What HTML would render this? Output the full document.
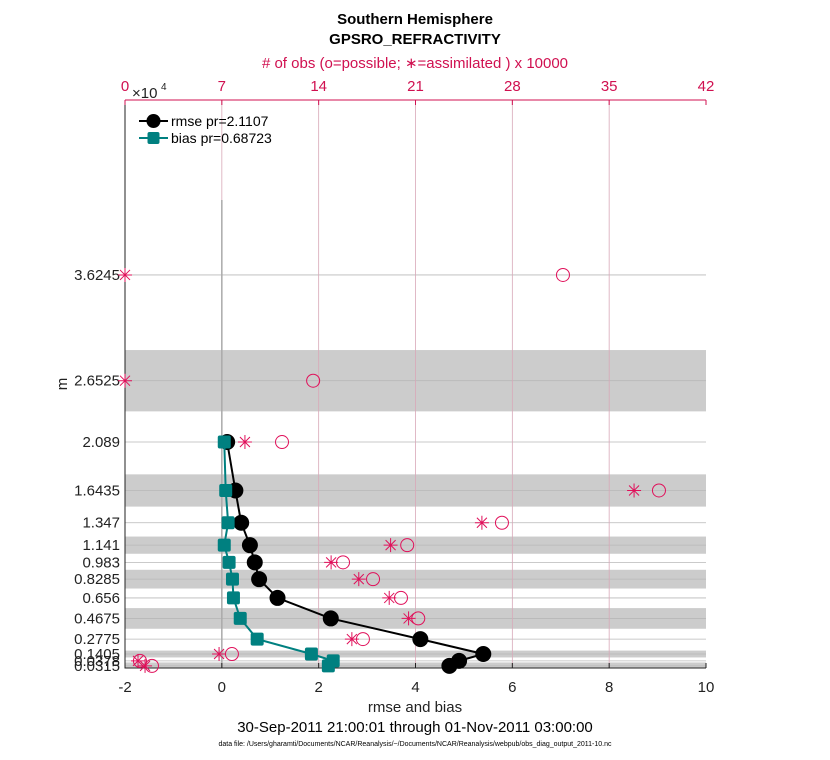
<!DOCTYPE html>
<html><head><meta charset="utf-8">
<style>
body{margin:0;background:#fff;}
svg{display:block;font-family:"Liberation Sans",Arial,sans-serif;}
</style></head>
<body>
<svg id="c" width="830" height="760" xmlns="http://www.w3.org/2000/svg"></svg>
<script>
const levels=[3.6245,2.6525,2.089,1.6435,1.347,1.141,0.983,0.8285,0.656,0.4675,0.2775,0.1405,0.0775,0.0315];
const levelLabels=["3.6245","2.6525","2.089","1.6435","1.347","1.141","0.983","0.8285","0.656","0.4675","0.2775","0.1405","0.0378","0.0315"];
const rmse=[null,null,0.11,0.28,0.4,0.58,0.68,0.77,1.15,2.25,4.1,5.4,4.9,4.7];
const bias=[null,null,0.05,0.08,0.13,0.05,0.15,0.22,0.24,0.38,0.73,1.85,2.3,2.2];
const obsPossible=[31.66,13.6,11.35,38.6,27.25,20.4,15.76,17.93,19.95,21.2,17.2,7.73,1.08,1.95];
const obsAssim=[0,0,8.67,36.8,25.8,19.2,14.9,16.9,19.1,20.5,16.4,6.8,0.94,1.45];
const bandLevels=[1,3,5,7,9,11,13];
const xTicks=[-2,0,2,4,6,8,10];
const topTicks=[0,7,14,21,28,35,42];

const L=125,R=706,T=100,B=668;
const X=v=>L+(v+2)/12*(R-L);
const Xt=v=>L+v/42*(R-L);
const Y=v=>669.3-v*108.8;
const svg=document.getElementById('c');
const NS="http://www.w3.org/2000/svg";
function mk(tag,attrs,parent){const e=document.createElementNS(NS,tag);for(const k in attrs)e.setAttribute(k,attrs[k]);(parent||svg).appendChild(e);return e;}
function tx(x,y,s,attrs){const e=mk('text',Object.assign({x:x,y:y},attrs));e.textContent=s;return e;}

// bands
bandLevels.forEach(i=>{
  const dn=i<levels.length-1?(levels[i]+levels[i+1])/2:0;
  const up=levels[i]+(levels[i]-dn);
  let y1=Math.max(Y(up),T),y2=Math.min(Y(dn),B);
  const r=mk('rect',{x:L,y:y1,width:R-L,height:y2-y1,fill:'#cccccc'});
  
  
});
// horizontal grid
levels.forEach(v=>{const l=mk('line',{x1:L,x2:R,y1:Y(v),y2:Y(v),stroke:'#b8b8b8','stroke-width':0.8});
});
// top vertical grid
topTicks.forEach(v=>{if(v>0&&v<42){const l=mk('line',{x1:Xt(v),x2:Xt(v),y1:T,y2:B,stroke:'#d8a8b8','stroke-width':0.8});
}});
// zero line
const z=mk('line',{x1:X(0),x2:X(0),y1:200,y2:B,stroke:'#aaaaaa','stroke-width':1.5});

// axes
const ax=mk('path',{d:`M${L},${T}V${B}H${R}`,fill:'none',stroke:'#222','stroke-width':1});

const tax=mk('line',{x1:L,x2:R,y1:T,y2:T,stroke:'#d01050','stroke-width':1});

// x ticks
xTicks.forEach(v=>{const t=tx(X(v),692,String(v),{'font-size':15,'text-anchor':'middle',fill:'#222'});

mk('line',{x1:X(v),x2:X(v),y1:B,y2:B-5,stroke:'#222'});});
topTicks.forEach(v=>{const t=tx(Xt(v),91,String(v),{'font-size':15,'text-anchor':'middle',fill:'#d01050'});

mk('line',{x1:Xt(v),x2:Xt(v),y1:T,y2:T+5,stroke:'#d01050'});});
const e4=tx(132,98,'\u00d710',{'font-size':15,fill:'#222'});

tx(161,90,'4',{'font-size':10,fill:'#222'});
// y labels
levels.forEach((v,i)=>{const t=tx(120,Y(v)+5,levelLabels[i],{'font-size':15,'text-anchor':'end',fill:'#222'});
});
// obs markers
levels.forEach((v,i)=>{
  const c=mk('circle',{cx:Xt(obsPossible[i]),cy:Y(v),r:6.5,fill:'none',stroke:'#e0105a','stroke-width':1});
  
  const x=Xt(obsAssim[i]),y=Y(v),s=7;
  const a=mk('path',{d:`M${x-s},${y}H${x+s}M${x},${y-s}V${y+s}M${x-5},${y-5}L${x+5},${y+5}M${x-5},${y+5}L${x+5},${y-5}`,stroke:'#e0105a','stroke-width':1,fill:'none'});
  
});
// series
function series(vals,color,name,sq){
  let d='';vals.forEach((v,i)=>{if(v===null)return;d+=(d?'L':'M')+X(v)+','+Y(levels[i]);});
  const p=mk('path',{d:d,fill:'none',stroke:color,'stroke-width':2});
  
  vals.forEach((v,i)=>{if(v===null)return;
    let m;
    if(sq){m=mk('rect',{x:X(v)-6.5,y:Y(levels[i])-6.5,width:13,height:13,rx:2,fill:color});}
    else{m=mk('circle',{cx:X(v),cy:Y(levels[i]),r:8,fill:color});}
    });
}
series(rmse,'#000','rmse',false);
series(bias,'#008080','bias',true);
// legend
const lg=mk('g',{});
mk('line',{x1:139,x2:168,y1:121,y2:121,stroke:'#000','stroke-width':2},lg);
mk('circle',{cx:153.5,cy:121,r:7,fill:'#000'},lg);
tx(171,126,'rmse pr=2.1107',{'font-size':14,fill:'#000'});
mk('line',{x1:139,x2:168,y1:138,y2:138,stroke:'#008080','stroke-width':2},lg);
mk('rect',{x:147.5,y:132,width:12,height:12,rx:2,fill:'#008080'},lg);
tx(171,143,'bias pr=0.68723',{'font-size':14,fill:'#000'});
// titles
let t;
t=tx(415,24,'Southern Hemisphere',{'font-size':15,'font-weight':'bold','text-anchor':'middle',fill:'#000'});
t=tx(415,44,'GPSRO_REFRACTIVITY',{'font-size':15,'font-weight':'bold','text-anchor':'middle',fill:'#000'});
t=tx(415,68,'# of obs (o=possible; \u2217=assimilated ) x 10000',{'font-size':15,'text-anchor':'middle',fill:'#d01050'});
t=tx(415,712,'rmse and bias',{'font-size':15,'text-anchor':'middle',fill:'#222'});
t=tx(415,732,'30-Sep-2011 21:00:01 through 01-Nov-2011 03:00:00',{'font-size':15,'text-anchor':'middle',fill:'#000'});
t=tx(415,746,'data file: /Users/gharamti/Documents/NCAR/Reanalysis/~/Documents/NCAR/Reanalysis/webpub/obs_diag_output_2011-10.nc',{'font-size':7,'text-anchor':'middle',fill:'#000'});
t=tx(0,0,'m',{'font-size':15,'text-anchor':'middle',fill:'#222',transform:'translate(67,384) rotate(-90)'});
</script>
</body></html>
